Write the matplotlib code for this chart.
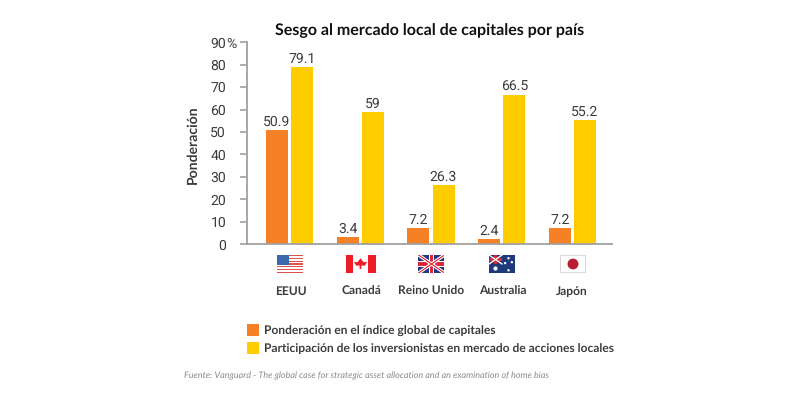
import matplotlib
matplotlib.use("Agg")
import matplotlib.pyplot as plt
import numpy as np
from matplotlib.patches import Rectangle, Polygon, Ellipse

plt.rcParams["text.hinting"] = "no_hinting"
plt.rcParams["text.hinting_factor"] = 1

countries = ["EEUU", "Canadá", "Reino Unido", "Australia", "Japón"]
global_weight = [50.9, 3.4, 7.2, 2.4, 7.2]
local_share = [79.1, 59, 26.3, 66.5, 55.2]
weight_labels = ["50.9", "3.4", "7.2", "2.4", "7.2"]
share_labels = ["79.1", "59", "26.3", "66.5", "55.2"]
y_ticks = [0, 10, 20, 30, 40, 50, 60, 70, 80, 90]
y_tick_labels = ["0", "10", "20", "30", "40", "50", "60", "70", "80", "90"]

ORANGE = "#F58025"
YELLOW = "#FFCC00"
TEXT = "#3c3c3c"
AXIS = "#a0a0a0"
W, H = 800, 401
SANS = "Lato"
NUM = "Roboto"

fig = plt.figure(figsize=(W / 100, H / 100), dpi=100, facecolor="white")
ax = fig.add_axes([247 / W, 1 - 244.2 / H, 365 / W, 202 / H])

x = np.arange(len(countries))
bar_w = 0.311
off = 0.177
ax.bar(x - off, global_weight, bar_w, color=ORANGE)
ax.bar(x + off, local_share, bar_w, color=YELLOW)
ax.set_xlim(-0.60, 4.558)
ax.set_ylim(0, 90)

for xi, v, s in zip(x - off, global_weight, weight_labels):
    ax.annotate(s, (xi, v), xytext=(0, 3), textcoords="offset points", ha="center",
                va="baseline", fontsize=10.2, color=TEXT, family=NUM)
for xi, v, s in zip(x + off, local_share, share_labels):
    ax.annotate(s, (xi, v), xytext=(0, 3), textcoords="offset points", ha="center",
                va="baseline", fontsize=10.2, color=TEXT, family=NUM)

ax.set_yticks(y_ticks)
ax.set_yticklabels(y_tick_labels, fontsize=10.4, color=TEXT, family=NUM)
ax.set_xticks([])
ax.tick_params(axis="y", length=5, width=1.2, color=AXIS, pad=10)
# The percent sign hangs past the right edge of the numbers on the top tick
ax.annotate("%", (0, 90), xycoords=("axes fraction", "data"), xytext=(-14.6, 0),
            textcoords="offset points", ha="left", va="center_baseline",
            fontsize=10.4, color=TEXT, family=NUM)
for side in ("top", "right"):
    ax.spines[side].set_visible(False)
for side in ("left", "bottom"):
    ax.spines[side].set_color(AXIS)
    ax.spines[side].set_linewidth(1.3)

def px(xp, yp):
    return xp / W, 1 - yp / H

fig.text(*px(429.5, 31), "Sesgo al mercado local de capitales por país", ha="center", va="center",
         fontsize=11.85, fontweight="bold", family=SANS, color="#111111")
fig.text(*px(192.5, 144.5), "Ponderación", rotation=90, ha="center", va="center",
         fontsize=10.4, fontweight="bold", family=SANS, color=TEXT)

# Country names under the flags
name_x = [291, 361, 431, 503, 572]
for nx, name in zip(name_x, countries):
    fig.text(*px(nx, 295), name, ha="center", va="baseline", fontsize=8.9,
             fontweight="bold", family=SANS, color=TEXT)

# Small vector flags, each in its own inset axes spanning 0-1 in both directions
def flag_axes(cx, cy=264, w=26, h=18):
    a = fig.add_axes([(cx - w / 2) / W, 1 - (cy + h / 2) / H, w / W, h / H])
    a.set_xlim(0, 1); a.set_ylim(0, 1); a.axis("off")
    return a

a = flag_axes(290)
for i in range(7):
    a.add_patch(Rectangle((0, i * 2 / 13), 1, 1 / 13, color="#e0524f", lw=0))
a.add_patch(Rectangle((0, 6 / 13), 0.45, 7 / 13, color="#3a68ad", lw=0))

a = flag_axes(360.5, w=30)
a.add_patch(Rectangle((0, 0), 0.26, 1, color="#ee1c25", lw=0))
a.add_patch(Rectangle((0.74, 0), 0.26, 1, color="#ee1c25", lw=0))
a.add_patch(Polygon([[0.5, 0.82], [0.6, 0.6], [0.72, 0.62], [0.64, 0.4], [0.53, 0.42], [0.53, 0.22],
                     [0.47, 0.22], [0.47, 0.42], [0.36, 0.4], [0.28, 0.62], [0.4, 0.6]],
                    color="#ee1c25", lw=0))

a = flag_axes(431.5)
a.add_patch(Rectangle((0, 0), 1, 1, color="#27357a", lw=0))
a.plot([0, 1], [0, 1], color="white", lw=2.4, solid_capstyle="butt")
a.plot([0, 1], [1, 0], color="white", lw=2.4, solid_capstyle="butt")
a.plot([0, 1], [0, 1], color="#d8283a", lw=0.8, solid_capstyle="butt")
a.plot([0, 1], [1, 0], color="#d8283a", lw=0.8, solid_capstyle="butt")
a.add_patch(Rectangle((0.4, 0), 0.2, 1, color="white", lw=0))
a.add_patch(Rectangle((0, 0.33), 1, 0.34, color="white", lw=0))
a.add_patch(Rectangle((0.45, 0), 0.1, 1, color="#d8283a", lw=0))
a.add_patch(Rectangle((0, 0.4), 1, 0.2, color="#d8283a", lw=0))

a = flag_axes(502)
a.add_patch(Rectangle((0, 0), 1, 1, color="#1f3a7a", lw=0))
a.plot([0, 0.5], [0.5, 1], color="white", lw=1)
a.plot([0, 0.5], [1, 0.5], color="white", lw=1)
a.add_patch(Rectangle((0.2, 0.5), 0.1, 0.5, color="#d8283a", lw=0))
a.add_patch(Rectangle((0, 0.69), 0.5, 0.12, color="#d8283a", lw=0))
star_x = [0.25, 0.75, 0.75, 0.62, 0.88]
star_y = [0.25, 0.15, 0.82, 0.55, 0.6]
star_s = [9, 3, 3, 3, 3]
a.scatter(star_x, star_y, s=star_s, color="white", lw=0, zorder=3)

a = flag_axes(573)
a.add_patch(Rectangle((0.01, 0.02), 0.98, 0.96, facecolor="white", edgecolor="#ddd2ce", lw=1.2))
a.add_artist(Ellipse((0.5, 0.5), 0.42, 0.6, color="#bc1c35", lw=0))

# Legend
legend_rows = [(330, ORANGE, "Ponderación en el índice global de capitales"),
               (348, YELLOW, "Participación de los inversionistas en mercado de acciones locales")]
for yp, col, label in legend_rows:
    fig.patches.append(Rectangle((247 / W, 1 - (yp + 6) / H), 12 / W, 12 / H, color=col, lw=0,
                                 transform=fig.transFigure, figure=fig))
    fig.text(*px(264, yp), label, ha="left", va="center_baseline", fontsize=8.85,
             fontweight="bold", family=SANS, color=TEXT)

fig.text(*px(184, 376), "Fuente: Vanguard - The global case for strategic asset allocation and an examination of home bias",
         ha="left", va="center", fontsize=6.75, style="italic", family=SANS, color="#8a8a8a")

fig.savefig("out.png", dpi=100, facecolor="white")
